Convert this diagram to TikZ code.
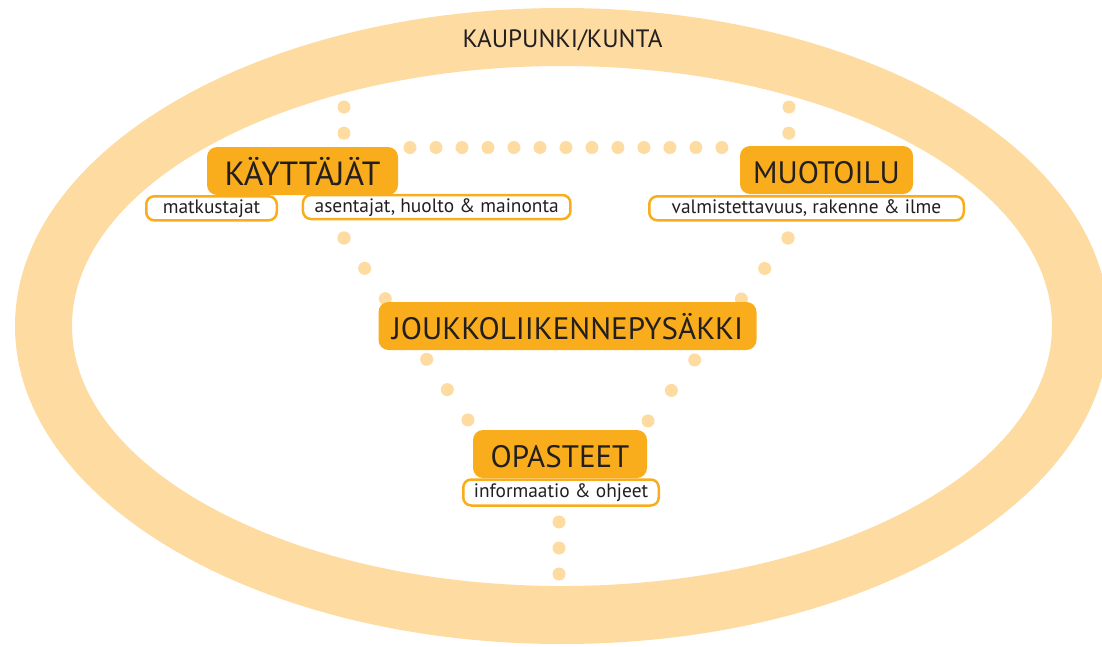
\documentclass[tikz,border=0pt]{standalone}
\usepackage{fontspec}
\setmainfont{PT Sans}
\usetikzlibrary{positioning}
\definecolor{oranssi}{HTML}{F9AD1C}
\definecolor{vaalea}{HTML}{FDDBA1}
\definecolor{teksti}{HTML}{231F20}
\tikzstyle{paalaatikko} = [rectangle,rounded corners=10pt,minimum height=48pt,inner sep=0pt,text centered,fill=oranssi,text=teksti,font=\fontsize{31}{31}\selectfont,text height=26.7pt,text depth=0pt]
\tikzstyle{alalaatikko} = [rectangle,rounded corners=8pt,minimum height=24pt,line width=2.5pt,inner sep=0pt,text centered,draw=oranssi,fill=white,text=teksti,font=\fontsize{19.4}{19.4}\selectfont,text height=13.8pt,text depth=3.8pt]
\tikzstyle{otsikko} = [inner sep=0pt,text=teksti,font=\fontsize{25.1}{25.1}\selectfont,text height=17.6pt,text depth=0pt]
\tikzstyle{pisteet} = [vaalea,line width=13pt,line cap=round]

\begin{document}
\begin{tikzpicture}[x=1pt,y=-1pt]
\useasboundingbox (0,0) rectangle (1102,646);
\clip (0,0) rectangle (1102,646);

% rengas
\fill[vaalea,even odd rule] (562,326) ellipse [x radius=547pt,y radius=318pt]
                            (562,326) ellipse [x radius=490pt,y radius=260pt];

\node (kaupunki) [otsikko] at (562.5,38.5) {KAUPUNKI/KUNTA};

\coordinate (v1) at (344,107);
\coordinate (v2) at (344,238);
\coordinate (v3) at (468,420);
\coordinate (o1) at (789,107);
\coordinate (o2) at (788,238);
\coordinate (o3) at (648,421);
\coordinate (h1) at (410,147.5);
\coordinate (h2) at (722,147.5);
\coordinate (a1) at (559,522);
\coordinate (a2) at (559,574);

\draw[pisteet,dash pattern=on 0pt off 26.19pt] (v1) -- (v2);
\draw[pisteet,dash pattern=on 0pt off 36.69pt] (v2) -- (v3);
\draw[pisteet,dash pattern=on 0pt off 26.19pt] (o1) -- (o2);
\draw[pisteet,dash pattern=on 0pt off 38.39pt] (o2) -- (o3);
\draw[pisteet,dash pattern=on 0pt off 25.99pt] (h1) -- (h2);
\draw[pisteet,dash pattern=on 0pt off 25.99pt] (a1) -- (a2);

\node (matkustajat) [alalaatikko,minimum width=130.5pt] at (211.5,208.3) {matkustajat};
\node (asentajat)   [alalaatikko,minimum width=267.5pt] at (436.7,207) {asentajat, huolto \& mainonta};
\node (valmistus)   [alalaatikko,minimum width=314.5pt] at (806.5,208.3) {valmistettavuus, rakenne \& ilme};
\node (informaatio) [alalaatikko,minimum width=195.5pt,minimum height=26pt] at (561,492.5) {informaatio \& ohjeet};

\node (kayttajat) [paalaatikko,minimum width=191pt,font=\fontsize{33.5}{33.5}\selectfont,text height=28.4pt] at (302.5,171) {KÄYTTÄJÄT};
\node (muotoilu)  [paalaatikko,minimum width=173pt] at (826.5,170) {MUOTOILU};
\node (pysakki)   [paalaatikko,minimum width=378pt] at (567.5,326) {JOUKKOLIIKENNEPYSÄKKI};
\node (opasteet)  [paalaatikko,minimum width=174pt] at (560,454) {OPASTEET};

\end{tikzpicture}
\end{document}
